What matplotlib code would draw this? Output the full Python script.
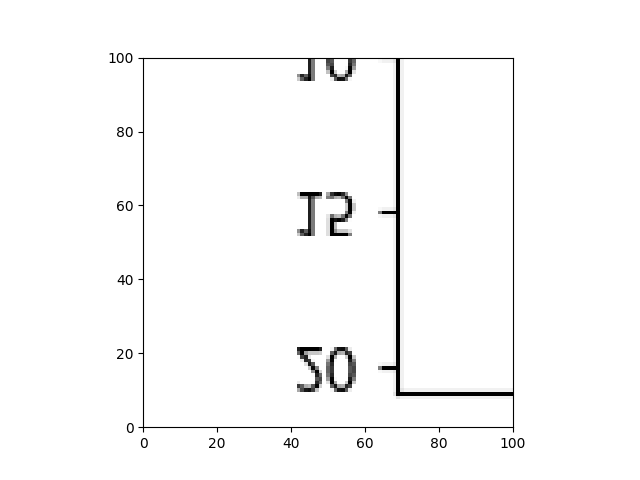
import numpy as np
import matplotlib
matplotlib.use("Agg")
import matplotlib.pyplot as plt
from matplotlib.figure import Figure
from matplotlib.backends.backend_agg import FigureCanvasAgg

# source plot that gets rendered and then shown as an image
SRC_SIZE_PX = (200, 200)
SRC_YLIM = (0, 20.83)
SRC_YTICKS = [0, 5, 10, 15, 20]
VIEW_LIM = (0, 100)  # pixel window shown on the main axes


def render_source():
    w, h = SRC_SIZE_PX
    fig = Figure(figsize=(w / 100, h / 100), dpi=100)
    canvas = FigureCanvasAgg(fig)
    top, left, height = 9, 69, 175
    ax = fig.add_axes([left / w, 1 - (top + height) / h, 120 / w, height / h])
    ax.set_ylim(*SRC_YLIM)
    ax.set_yticks(SRC_YTICKS)
    ax.set_xticks([])
    ax.tick_params(labelsize=10.5)
    canvas.draw()
    return np.asarray(canvas.buffer_rgba())[:, :, :3].copy()


img = render_source()

fig, ax = plt.subplots()
ax.imshow(img)
ax.set_xlim(*VIEW_LIM)
ax.set_ylim(*VIEW_LIM)
fig.savefig("out.png")
